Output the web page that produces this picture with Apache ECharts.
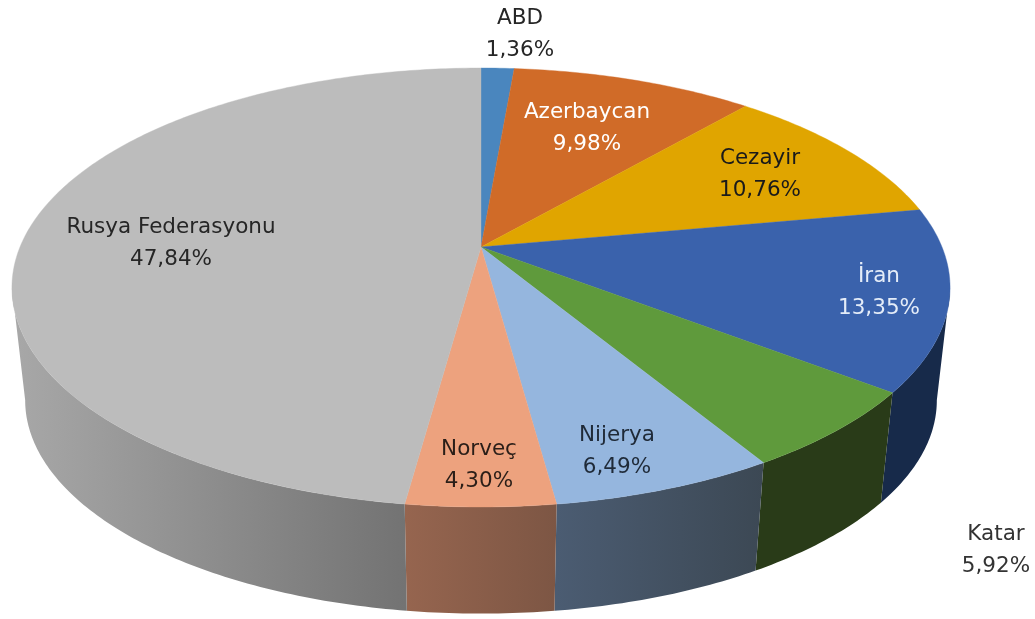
<!DOCTYPE html>
<html><head><meta charset="utf-8">
<style>html,body{margin:0;padding:0;background:#fff}#c{width:1035px;height:619px;filter:blur(0.5px)}</style>
<script src="https://cdn.jsdelivr.net/npm/echarts@6/dist/echarts.min.js"></script>
</head><body><div id="c"></div>
<script>
const categories = ['ABD','Azerbaycan','Cezayir','İran','Katar','Nijerya','Norveç','Rusya Federasyonu'];
const shares = [1.36,9.98,10.76,13.35,5.92,6.49,4.30,47.84];
const topColors = ['#4A86BE','#D06B28','#E0A500','#3A62AC','#5F9A3C','#95B6DE','#EDA27E','#BCBCBC'];
const sideFrom = ['#2A4A6A','#733B16','#7C5B00','#172A4A','#293B18','#4B5C72','#96654F','#A8A8A8'];
const sideTo   = ['#2A4A6A','#733B16','#7C5B00','#172A4A','#293B18','#3C4854','#7D5644','#737373'];
const labelColors = ['#262626','#FFFFFF','#1A1A1A','#E4ECF8','#333333','#1F2A38','#2A1E18','#262626'];
const labelAt = [[520,34],[587,128],[760,174],[879,292],[996,550],[617,451],[479,465],[171,243]];

const TOTAL = shares.reduce((a,b)=>a+b,0);
const cumulative = shares.map((_, i)=>shares.slice(0,i).reduce((a,b)=>a+b,0));
const K = -81/439;
const topFace = {cx:481, cy:247, A:461, B:212};
const baseFace = {cx:481, cy:361, A:448, B:206};
// angles at which the rim leaves the silhouette of the disc
const SILHOUETTE = Math.acos(K)*180/Math.PI;
function project(f, deg){
  const t = deg*Math.PI/180, u = Math.sin(t), v = -Math.cos(t), d = 1+K*v;
  return [f.cx+f.A*u/d, f.cy+f.B*v/d];
}
function arc(f,a0,a1){
  const n = Math.max(2,Math.ceil((a1-a0)/0.75)), out=[];
  for(let i=0;i<=n;i++) out.push(project(f,a0+(a1-a0)*i/n));
  return out;
}
function angles(i){
  return [cumulative[i]/TOTAL*360,(cumulative[i]+shares[i])/TOTAL*360];
}
const rows = categories.map((c,i)=>({name:c,value:shares[i]}));
const chart = echarts.init(document.getElementById('c'),null,{renderer:'canvas'});
chart.setOption({
  animation:false,
  backgroundColor:'#ffffff',
  series:[
    {type:'custom',coordinateSystem:'none',data:rows,silent:true,z:1,
     renderItem(p,api){
      const i=p.dataIndex,[a0,a1]=angles(i);
      const s0=Math.max(a0,SILHOUETTE), s1=Math.min(a1,360-SILHOUETTE);
      if(s1<=s0) return null;
      const up=arc(topFace,s0,s1), down=arc(baseFace,s0,s1);
      const xs=up.map(q=>q[0]);
      const fill={type:'linear',global:true,x:Math.min(...xs),y:0,x2:Math.max(...xs),y2:0,
              colorStops:[{offset:0,color:sideFrom[i]},{offset:1,color:sideTo[i]}]};
      return {type:'polygon',shape:{points:up.concat(down.reverse())},style:{fill:fill,stroke:null}};
     }},
    {type:'custom',coordinateSystem:'none',data:rows,silent:true,z:2,
     renderItem(p,api){
      const i=p.dataIndex,[a0,a1]=angles(i);
      const pts=[[topFace.cx,topFace.cy]].concat(arc(topFace,a0,a1));
      return {type:'polygon',shape:{points:pts},style:{fill:topColors[i],stroke:topColors[i],lineWidth:0.4}};
     }},
    {type:'custom',coordinateSystem:'none',data:rows,silent:true,z:3,
     renderItem(p,api){
      const i=p.dataIndex;
      return {type:'text',x:labelAt[i][0],y:labelAt[i][1],style:{
        text:categories[i]+'\n'+shares[i].toFixed(2).replace('.',',')+'%',
        fill:labelColors[i],font:'21.5px "DejaVu Sans", sans-serif',
        align:'center',verticalAlign:'middle',lineHeight:32}};
     }}
  ]
});
</script></body></html>
